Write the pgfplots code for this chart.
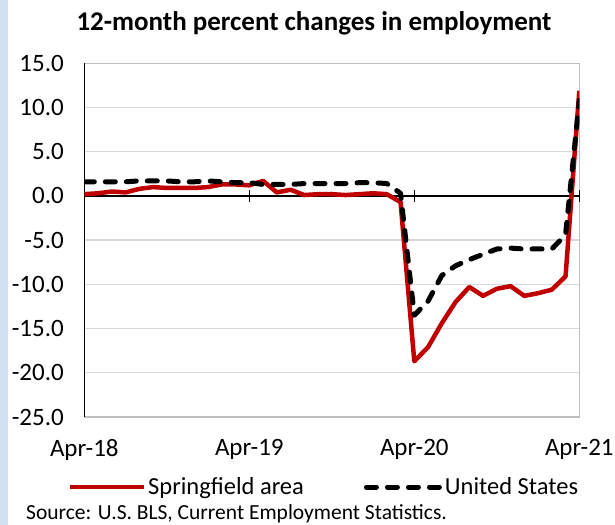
\documentclass[border=0pt]{standalone}
\usepackage{pgfplots}
\pgfplotsset{compat=1.18}
\usepackage{pgfplotstable}
\usepackage{fontspec}
\setmainfont{Carlito}
\definecolor{springred}{HTML}{C00000}
\definecolor{gridgray}{HTML}{D9D9D9}
\definecolor{bordergray}{HTML}{BFBFBF}
\definecolor{stripblue}{HTML}{D3DFF3}

\pgfplotstableread{
m spr us
0 0.2 1.6
1 0.3 1.6
2 0.5 1.6
3 0.4 1.6
4 0.8 1.7
5 1.0 1.7
6 0.9 1.7
7 0.9 1.6
8 0.9 1.6
9 1.0 1.7
10 1.3 1.6
11 1.3 1.5
12 1.2 1.5
13 1.7 1.3
14 0.4 1.3
15 0.7 1.3
16 0.1 1.4
17 0.2 1.4
18 0.2 1.4
19 0.1 1.4
20 0.2 1.5
21 0.3 1.5
22 0.2 1.4
23 -0.7 0.3
24 -18.7 -13.5
25 -17.1 -11.9
26 -14.4 -9.0
27 -12.0 -7.9
28 -10.3 -7.2
29 -11.3 -6.6
30 -10.5 -6.0
31 -10.2 -5.9
32 -11.3 -6.0
33 -11.0 -6.0
34 -10.6 -6.0
35 -9.1 -4.4
36 11.9 10.8
}\emp

\begin{document}
\begin{tikzpicture}
\useasboundingbox (0bp,0bp) rectangle (615bp,525bp);
\fill[stripblue] (0bp,0bp) rectangle (8bp,525bp);
\node[anchor=base, inner sep=0pt, font=\bfseries\fontsize{27bp}{31bp}\selectfont] at (314bp,494bp) {12-month percent changes in employment};
\node[anchor=base west, inner sep=0pt, font=\fontsize{21.5bp}{25bp}\selectfont] at (26bp,5.5bp) {Source: U.S. BLS, Current Employment Statistics.};
\begin{axis}[
  at={(84.3bp,108bp)}, anchor=south west, scale only axis,
  width=495bp, height=353.7bp,
  xmin=0, xmax=36, ymin=-25, ymax=15,
  ytick={-25,-20,...,15},
  xtick={0,12,24,36},
  xticklabels={Apr-18,Apr-19,Apr-20,Apr-21},
  ymajorgrids,
  grid style={gridgray, line width=1.3bp},
  axis line style={bordergray, line width=1.3bp},
  major tick length=0pt,
  tick label style={font=\fontsize{25bp}{28bp}\selectfont},
  xticklabel style={anchor=north, yshift=-19bp},
  yticklabel style={anchor=east, xshift=-17bp},
  yticklabel={\pgfmathprintnumber[fixed,fixed zerofill,precision=1,assume math mode=true]{\tick}},
]
\end{axis}
\begin{axis}[
  at={(84.3bp,108bp)}, anchor=south west, scale only axis,
  width=495bp, height=353.7bp,
  xmin=0, xmax=36, ymin=-25, ymax=15,
  axis x line=middle, axis y line=left,
  axis line style={black, line width=1.3bp, -},
  every inner x axis line/.append style={-},
  every outer y axis line/.append style={-},
  xtick={0,12,24,36}, xticklabels={}, ytick=\empty,
  tick align=center, major tick length=12bp,
  tick style={black, line width=1.3bp},
  legend style={at={(0.484,-0.198)}, anchor=center, draw=none, fill=none,
    legend columns=2, font=\fontsize{24.5bp}{28bp}\selectfont,
    /tikz/every even column/.append style={column sep=58bp}},
  legend cell align=left,
  legend image code/.code={\draw[#1] (0bp,0bp) -- (74bp,0bp);},
]
\addplot[springred, line width=4.5bp, line join=round] table[x=m,y=spr]{\emp};
\addlegendentry{Springfield area}
\addplot[black, line width=5bp, dash pattern=on 10bp off 11bp, line cap=round, line join=round] table[x=m,y=us]{\emp};
\addlegendentry{United States}
\end{axis}
\end{tikzpicture}
\end{document}
